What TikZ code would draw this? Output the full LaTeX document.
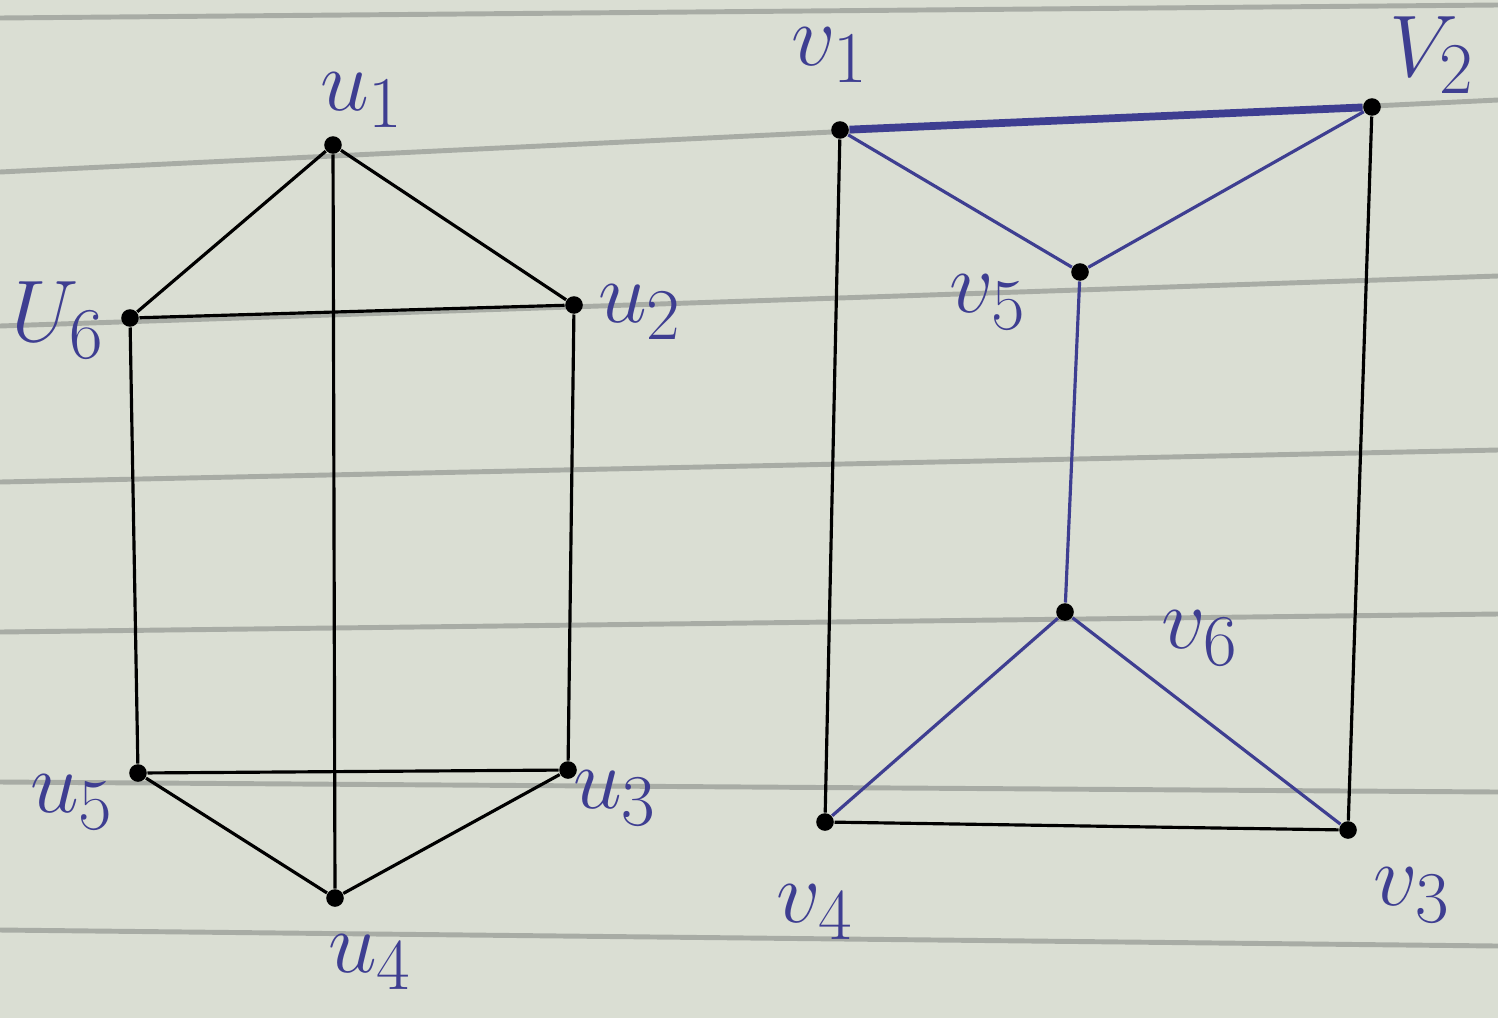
\documentclass[tikz,border=0pt]{standalone}
\usepackage{amsmath}
\usepackage{tikz}
\usetikzlibrary{positioning}
\definecolor{ink}{RGB}{62,62,145}
\definecolor{paper}{RGB}{218,222,211}
\definecolor{ruling}{RGB}{168,172,165}
\begin{document}
\begin{tikzpicture}[x=0.01cm, y=-0.01cm,
			dot/.style={circle, fill=black, inner sep=0pt, minimum size=5pt},
			lbl/.style={text=ink, font=\Huge},
			edge/.style={line width=0.9pt, black},
			inkedge/.style={line width=0.9pt, ink}]
			% Papier und Linien
			\fill[paper] (0,0) rectangle (1498,1018);
			\useasboundingbox (0,0) rectangle (1498,1018);
			\foreach \a/\b in {18/5, 172/100, 326/276, 482/450, 632/614, 782/792, 930/946}
				\draw[ruling, line width=1.4pt] (0,\a) -- (1498,\b);
			% Knoten links
			\node[dot] (u1) at (333,145) {};
			\node[dot] (u2) at (574,305) {};
			\node[dot] (u3) at (568,770) {};
			\node[dot] (u4) at (335,898) {};
			\node[dot] (u5) at (138,773) {};
			\node[dot] (u6) at (130,318) {};
			% Knoten rechts
			\node[dot] (v1) at (840,130) {};
			\node[dot] (v2) at (1372,107) {};
			\node[dot] (v3) at (1348,830) {};
			\node[dot] (v4) at (825,822) {};
			\node[dot] (v5) at (1080,272) {};
			\node[dot] (v6) at (1065,612) {};
			% Kanten
			\foreach \p/\q in {u1/u6, u1/u2, u1/u4, u6/u2, u6/u5, u2/u3, u5/u3, u5/u4, u3/u4}
				\draw[edge] (\p) -- (\q);
			\foreach \p/\q in {v1/v4, v2/v3, v4/v3}
				\draw[edge] (\p) -- (\q);
			\foreach \p/\q in {v1/v5, v2/v5, v5/v6, v6/v4, v6/v3}
				\draw[inkedge] (\p) -- (\q);
			\draw[ink, line width=2.2pt] (v1) -- (v2);
			% Beschriftung
			\node[lbl] (lu1) at (362,100) {$u_1$};
			\node[lbl] (lu2) at (640,312) {$u_2$};
			\node[lbl] (lu3) at (615,798) {$u_3$};
			\node[lbl] (lu4) at (370,962) {$u_4$};
			\node[lbl] (lu5) at (72,802) {$u_5$};
			\node[lbl] (lu6) at (58,320) {$U_6$};
			\node[lbl] (lv1) at (830,55) {$v_1$};
			\node[lbl] (lv2) at (1432,55) {$V_2$};
			\node[lbl] (lv3) at (1412,895) {$v_3$};
			\node[lbl] (lv4) at (815,912) {$v_4$};
			\node[lbl] (lv5) at (988,302) {$v_5$};
			\node[lbl] (lv6) at (1200,638) {$v_6$};
		\end{tikzpicture}
\end{document}
